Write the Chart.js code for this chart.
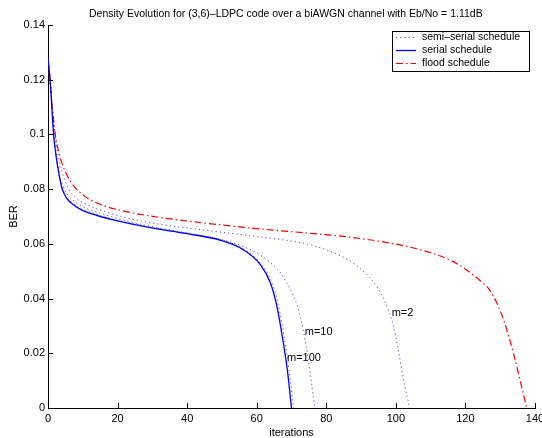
<!DOCTYPE html>
<html>
<head>
<meta charset="utf-8">
<script src="https://cdn.jsdelivr.net/npm/chart.js@4.4.0/dist/chart.umd.min.js"></script>
<style>
  body { margin: 0; background: #fff; }
  #wrap { width: 542px; height: 438px; }
</style>
</head>
<body>
<div id="wrap"><canvas id="myChart" width="542" height="438"></canvas></div>
<script>
const FONT = '"Liberation Sans", Arial, Helvetica, sans-serif';
const TITLE = 'Density Evolution for (3,6)\u2013LDPC code over a biAWGN channel with Eb/No = 1.11dB';

// serial schedule (solid blue)
const serialX = [0, 0.6, 1.6, 2.5, 3.3, 4, 5.4, 7.1, 9.5, 12, 15, 20, 29, 40, 49.4, 56, 61, 64, 66, 67.5, 68.8, 70];
const serialY = [0.128, 0.120, 0.100, 0.0906, 0.0846, 0.0804, 0.0766, 0.0745, 0.0725, 0.0712, 0.0700, 0.0684, 0.0660, 0.0637, 0.0614, 0.0580, 0.0525, 0.0455, 0.0360, 0.0250, 0.0140, 0];

// semi-serial schedule, m=100 (dotted, almost on top of serial)
const m100X = [0, 0.7, 1.7, 2.6, 3.3, 4.1, 5.4, 7, 9.5, 12, 15, 20, 29, 40, 49.4, 56, 61, 64.5, 66.5, 68, 69.3, 70.6];
const m100Y = [0.128, 0.119, 0.100, 0.0906, 0.0850, 0.0806, 0.0770, 0.0750, 0.0728, 0.0716, 0.0703, 0.0686, 0.0662, 0.0639, 0.0616, 0.0583, 0.0530, 0.0455, 0.0360, 0.0250, 0.0140, 0];

// semi-serial schedule, m=10
const m10X = [0, 0.8, 1.7, 2.7, 4, 5.5, 8, 11, 15, 22, 29, 40, 48.4, 55, 60.9, 64.5, 66.6, 68.5, 70.4, 72, 73.3, 74.5, 75.5, 76.7];
const m10Y = [0.128, 0.118, 0.100, 0.0885, 0.0820, 0.0782, 0.0752, 0.0730, 0.0712, 0.0686, 0.0665, 0.0640, 0.0620, 0.0596, 0.0560, 0.0525, 0.0498, 0.0460, 0.0415, 0.0360, 0.0290, 0.0205, 0.0115, 0];

// semi-serial schedule, m=2
const m2X = [0, 0.9, 2, 3, 4, 6, 8, 11, 15, 22, 29, 44, 58, 68, 75, 80, 84, 88, 91.5, 94.5, 97, 99.2, 100.5, 101.5, 102.6, 104];
const m2Y = [0.128, 0.115, 0.100, 0.0920, 0.0865, 0.0800, 0.0768, 0.0745, 0.0724, 0.0697, 0.0678, 0.0652, 0.0630, 0.0614, 0.0598, 0.0578, 0.0557, 0.0527, 0.0490, 0.0444, 0.0385, 0.0305, 0.0225, 0.0155, 0.0078, 0];

// flood schedule (red dash-dot)
const floodX = [0, 1, 2.1, 3, 4, 5.5, 7.2, 9.5, 12, 16, 20, 26, 33, 43.6, 55, 65, 75, 85, 95, 101.2, 106, 110.7, 116, 120.3, 124, 127, 129, 130.9, 132.5, 133.8, 135.7, 137.6];
const floodY = [0.128, 0.113, 0.100, 0.0940, 0.0895, 0.0850, 0.0815, 0.0785, 0.0762, 0.0740, 0.0725, 0.0709, 0.0695, 0.0678, 0.0662, 0.0650, 0.0639, 0.0627, 0.0610, 0.0596, 0.0582, 0.0565, 0.0538, 0.0505, 0.0468, 0.0431, 0.0385, 0.0325, 0.0260, 0.0200, 0.0102, 0];

// curve annotations
const noteText = ['m=2', 'm=10', 'm=100'];
const noteX = [98.8, 73.8, 68.7];
const noteY = [0.0346, 0.0277, 0.0184];

const legendNames = ['semi\u2013serial schedule', 'serial schedule', 'flood schedule'];

function pts(xs, ys) {
    return xs.map((x, i) => ({ x: x, y: ys[i] }));
}

const dotted = { borderColor: 'rgba(0,0,255,0.7)', borderWidth: 1, borderDash: [1.2, 3] };
const solid = { borderColor: '#0000ff', borderWidth: 1.3, borderDash: [] };
const dashDot = { borderColor: '#ff0000', borderWidth: 1.2, borderDash: [7, 3, 1.5, 3] };

function line(data, style) {
    return {
        data: data,
        pointRadius: 0,
        fill: false,
        cubicInterpolationMode: 'monotone',
        borderColor: style.borderColor,
        borderWidth: style.borderWidth,
        borderDash: style.borderDash.slice(),
    };
}

// ticks inside, title, notes and the boxed legend
const decor = {
    id: 'decor',
    afterDraw(chart) {
        const ctx = chart.ctx;
        const xs = chart.scales.x;
        const ys = chart.scales.y;
        const a = chart.chartArea;
        ctx.save();
        ctx.strokeStyle = '#000';
        ctx.lineWidth = 1;
        ctx.setLineDash([]);
        xs.ticks.forEach(t => {
            const p = Math.round(xs.getPixelForValue(t.value)) + 0.5;
            ctx.beginPath();
            ctx.moveTo(p, a.bottom);
            ctx.lineTo(p, a.bottom - 5);
            ctx.stroke();
        });
        ys.ticks.forEach(t => {
            const p = Math.round(ys.getPixelForValue(t.value)) + 0.5;
            ctx.beginPath();
            ctx.moveTo(a.left, p);
            ctx.lineTo(a.left + 5, p);
            ctx.stroke();
        });

        ctx.fillStyle = '#000';
        ctx.font = '10.5px ' + FONT;
        ctx.textAlign = 'left';
        ctx.textBaseline = 'middle';
        ctx.fillText(TITLE, 89, 14);

        ctx.font = '11px ' + FONT;
        noteText.forEach((s, i) => {
            ctx.fillText(s, xs.getPixelForValue(noteX[i]), ys.getPixelForValue(noteY[i]));
        });

        // legend box
        const bx = 392.5, by = 31.5, bw = 137, bh = 40;
        ctx.fillStyle = '#fff';
        ctx.fillRect(bx, by, bw, bh);
        ctx.strokeStyle = '#000';
        ctx.lineWidth = 1;
        ctx.strokeRect(bx, by, bw, bh);
        const styles = [dotted, solid, dashDot];
        ctx.font = '10.5px ' + FONT;
        styles.forEach((st, i) => {
            const y = 37.5 + i * 13;
            ctx.save();
            ctx.strokeStyle = st.borderColor;
            ctx.lineWidth = st.borderWidth;
            ctx.setLineDash(st.borderDash);
            ctx.beginPath();
            ctx.moveTo(396, y);
            ctx.lineTo(416, y);
            ctx.stroke();
            ctx.restore();
            ctx.fillStyle = '#000';
            ctx.fillText(legendNames[i], 422, y);
        });
        ctx.restore();
    }
};

new Chart(document.getElementById('myChart').getContext('2d'), {
    type: 'line',
    data: {
        datasets: [
            line(pts(m2X, m2Y), dotted),
            line(pts(m10X, m10Y), dotted),
            line(pts(m100X, m100Y), dotted),
            line(pts(serialX, serialY), solid),
            line(pts(floodX, floodY), dashDot),
        ],
    },
    options: {
        responsive: false,
        animation: false,
        devicePixelRatio: 1,
        layout: { padding: { top: 25, right: 7, left: 0, bottom: 0 } },
        plugins: { legend: { display: false }, title: { display: false }, tooltip: { enabled: false } },
        scales: {
            x: {
                type: 'linear',
                min: 0,
                max: 140,
                grid: { display: false, drawTicks: false },
                border: { display: true, color: '#000', width: 1 },
                ticks: {
                    stepSize: 20,
                    autoSkip: false,
                    maxRotation: 0,
                    padding: 4,
                    color: '#000',
                    font: { family: FONT, size: 11 },
                },
                title: { display: true, text: 'iterations', color: '#000', padding: 0, font: { family: FONT, size: 11, lineHeight: 1 } },
                afterFit: s => { s.height = 30; s.paddingLeft = 0; s.paddingRight = 0; },
            },
            y: {
                type: 'linear',
                min: 0,
                max: 0.14,
                grid: { display: false, drawTicks: false },
                border: { display: true, color: '#000', width: 1 },
                ticks: {
                    stepSize: 0.02,
                    autoSkip: false,
                    padding: 3,
                    color: '#000',
                    font: { family: FONT, size: 11 },
                    callback: v => String(+v.toFixed(2)),
                },
                title: { display: true, text: 'BER', color: '#000', padding: { top: 7, bottom: 0 }, font: { family: FONT, size: 11 } },
                afterFit: s => { s.width = 48; s.paddingTop = 0; s.paddingBottom = 0; },
            },
        },
    },
    plugins: [decor],
});
</script>
</body>
</html>
